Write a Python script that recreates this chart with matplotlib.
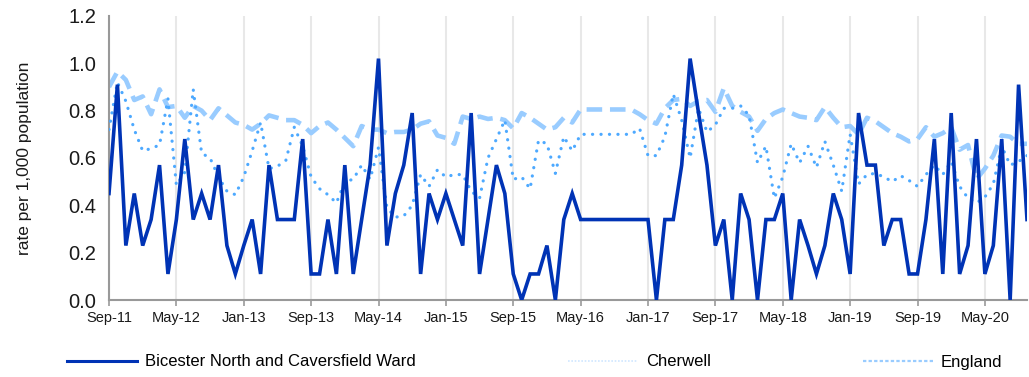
import matplotlib
matplotlib.use("Agg")
import matplotlib.pyplot as plt
from matplotlib.lines import Line2D
import numpy as np

plt.rcParams['font.family'] = ['Liberation Sans', 'DejaVu Sans']

# Monthly rates per 1,000 population, Sep-11 to Oct-20
bicester = [
    0.45, 0.91, 0.23, 0.45, 0.23, 0.34, 0.57, 0.11, 0.34, 0.68,
    0.34, 0.45, 0.34, 0.57, 0.23, 0.11, 0.23, 0.34, 0.11, 0.57,
    0.34, 0.34, 0.34, 0.68, 0.11, 0.11, 0.34, 0.11, 0.57, 0.11,
    0.34, 0.57, 1.02, 0.23, 0.45, 0.57, 0.79, 0.11, 0.45, 0.34,
    0.45, 0.34, 0.23, 0.79, 0.11, 0.34, 0.57, 0.45, 0.11, 0.00,
    0.11, 0.11, 0.23, 0.00, 0.34, 0.45, 0.34, 0.34, 0.34, 0.34,
    0.34, 0.34, 0.34, 0.34, 0.34, 0.00, 0.34, 0.34, 0.57, 1.02,
    0.79, 0.57, 0.23, 0.34, 0.00, 0.45, 0.34, 0.00, 0.34, 0.34,
    0.45, 0.00, 0.34, 0.23, 0.11, 0.23, 0.45, 0.34, 0.11, 0.79,
    0.57, 0.57, 0.23, 0.34, 0.34, 0.11, 0.11, 0.34, 0.68, 0.11,
    0.79, 0.11, 0.23, 0.68, 0.11, 0.23, 0.68, 0.00, 0.91, 0.34,
]

cherwell = [
    0.72, 0.92, 0.84, 0.72, 0.63, 0.64, 0.655, 0.85, 0.485, 0.54,
    0.89, 0.62, 0.60, 0.52, 0.46, 0.445, 0.52, 0.63, 0.75, 0.555,
    0.565, 0.59, 0.73, 0.65, 0.52, 0.47, 0.445, 0.41, 0.50, 0.51,
    0.57, 0.51, 0.645, 0.39, 0.35, 0.355, 0.40, 0.53, 0.48, 0.55,
    0.52, 0.53, 0.53, 0.46, 0.43, 0.60, 0.68, 0.76, 0.51, 0.52,
    0.47, 0.675, 0.66, 0.535, 0.69, 0.63, 0.70, 0.70, 0.70, 0.70,
    0.70, 0.70, 0.70, 0.725, 0.61, 0.61, 0.69, 0.87, 0.76, 0.60,
    0.81, 0.71, 0.74, 0.81, 0.81, 0.82, 0.78, 0.58, 0.65, 0.43,
    0.52, 0.66, 0.58, 0.65, 0.56, 0.67, 0.57, 0.46, 0.70, 0.49,
    0.53, 0.535, 0.52, 0.50, 0.525, 0.505, 0.48, 0.53, 0.57, 0.53,
    0.585, 0.48, 0.43, 0.41, 0.435, 0.49, 0.65, 0.57, 0.585, 0.61,
]

england = [
    0.90, 0.965, 0.93, 0.845, 0.86, 0.785, 0.89, 0.815, 0.82, 0.77,
    0.82, 0.80, 0.76, 0.81, 0.78, 0.75, 0.74, 0.72, 0.745, 0.78,
    0.77, 0.76, 0.76, 0.74, 0.705, 0.735, 0.75, 0.72, 0.685, 0.65,
    0.735, 0.72, 0.72, 0.705, 0.71, 0.71, 0.72, 0.745, 0.755, 0.695,
    0.685, 0.66, 0.775, 0.765, 0.775, 0.765, 0.77, 0.76, 0.725, 0.79,
    0.77, 0.745, 0.72, 0.73, 0.77, 0.75, 0.805, 0.805, 0.805, 0.805,
    0.805, 0.805, 0.805, 0.785, 0.76, 0.745, 0.81, 0.845, 0.85, 0.82,
    0.84, 0.845, 0.795, 0.895, 0.82, 0.795, 0.775, 0.715, 0.765, 0.79,
    0.805, 0.79, 0.775, 0.77, 0.76, 0.815, 0.77, 0.73, 0.735, 0.70,
    0.77, 0.755, 0.73, 0.705, 0.69, 0.67, 0.68, 0.73, 0.69, 0.705,
    0.73, 0.635, 0.655, 0.51, 0.555, 0.61, 0.695, 0.69, 0.66, 0.66,
]

tick_labels = ["Sep-11", "May-12", "Jan-13", "Sep-13", "May-14", "Jan-15", "Sep-15",
               "May-16", "Jan-17", "Sep-17", "May-18", "Jan-19", "Sep-19", "May-20"]

months = np.arange(len(bicester))
tick_pos = np.arange(len(tick_labels)) * 8

DARK = "#0033b5"
MID = "#4da9ff"
LIGHT = "#99ccff"

fig = plt.figure(figsize=(10.29, 3.77), dpi=100)
ax = fig.add_axes([109 / 1029, 1 - 300 / 377, (1027 - 109) / 1029, (300 - 16) / 377])

ax.plot(months, bicester, color=DARK, lw=2.6, solid_joinstyle="miter", zorder=4)
ax.plot(months, cherwell, color=MID, lw=2.3, linestyle=(0, (0.05, 2.6)),
        dash_capstyle="round", zorder=3)
ax.plot(months, england, color=LIGHT, lw=3.3, linestyle=(0, (3.4, 1.7)), zorder=2)

ax.set_xlim(0, len(bicester) - 1)
ax.set_ylim(0, 1.2)
yticks = np.arange(0, 1.21, 0.2)
ax.set_yticks(yticks)
ax.set_yticklabels([f"{v:.1f}" for v in yticks])
ax.set_xticks(tick_pos)
ax.set_xticklabels(tick_labels)

ax.tick_params(axis="y", length=0, pad=9, labelsize=14.5, colors="#1a1a1a")
ax.tick_params(axis="x", length=4, width=1.2, color="#999999", pad=4,
               labelsize=10.5, labelcolor="#1a1a1a")
ax.xaxis.grid(True, color="#e8e8e8", lw=1.5)
ax.set_axisbelow(True)

for side in ("top", "right"):
    ax.spines[side].set_visible(False)
for side in ("left", "bottom"):
    ax.spines[side].set_color("#999999")
    ax.spines[side].set_linewidth(1.5)

ax.set_ylabel("rate per 1,000 population", fontsize=12.5, color="#1a1a1a", labelpad=26)

# Legend keys drawn as thin strokes below the plot
handles = [
    Line2D([], [], color=DARK, lw=2.2),
    Line2D([], [], color="#cfe6ff", lw=1.2, linestyle=(0, (1, 1))),
    Line2D([], [], color=LIGHT, lw=1.6, linestyle=(0, (1.5, 1))),
]
labels = ["Bicester North and Caversfield Ward", "Cherwell", "England"]
fig.legend(handles, labels, loc="center left", bbox_to_anchor=(67 / 1029, 1 - 362 / 377),
           ncol=3, frameon=False, fontsize=12, handlelength=4.2, handletextpad=0.5,
           columnspacing=9.1, borderpad=0, borderaxespad=0)

fig.savefig("out.png", dpi=100)
